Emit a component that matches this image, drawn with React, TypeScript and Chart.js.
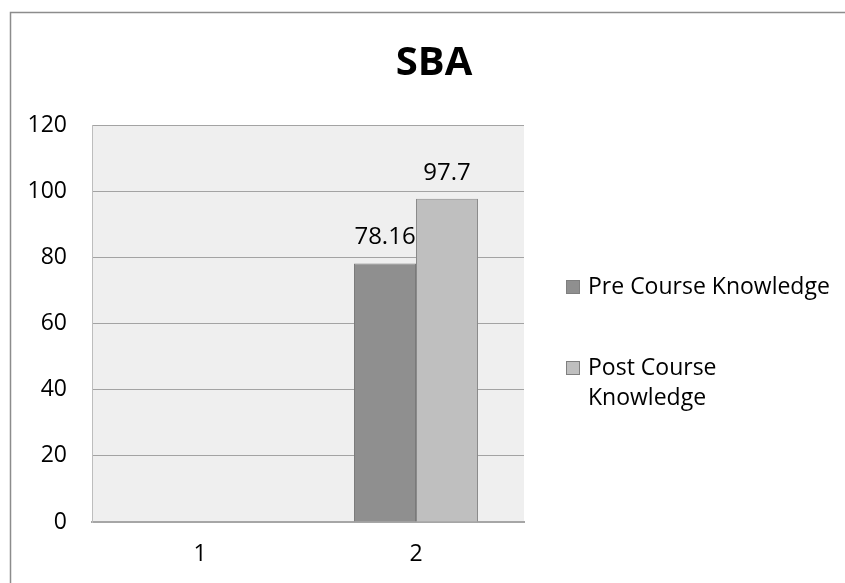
import React, { useEffect, useRef } from "react";
import { Chart, registerables } from "chart.js";

Chart.register(...registerables);

const titleText = "SBA";
const categories = ["1", "2"];
const seriesLabels = ["Pre Course Knowledge", "Post Course Knowledge"];
const preValues: (number | null)[] = [null, 78.16];
const postValues: (number | null)[] = [null, 97.7];
const seriesColors = ["#8f8f8f", "#bfbfbf"];
const yMin = 0;
const yMax = 120;
const yStep = 20;

const FONT = "'Open Sans', 'Liberation Sans', sans-serif";

const W = 845;
const H = 583;

const decorPlugin = {
  id: "decor",
  beforeDraw(chart: any) {
    const { ctx, chartArea } = chart;
    ctx.save();
    ctx.fillStyle = "#ffffff";
    ctx.fillRect(0, 0, W, H);
    ctx.strokeStyle = "#8c8c8c";
    ctx.lineWidth = 1.5;
    ctx.strokeRect(10.5, 12.5, W + 50, H + 50);
    ctx.fillStyle = "#efefef";
    ctx.fillRect(chartArea.left, chartArea.top, chartArea.right - chartArea.left, chartArea.bottom - chartArea.top);
    ctx.restore();
  },
  afterDraw(chart: any) {
    const { ctx } = chart;
    ctx.save();
    // title
    ctx.fillStyle = "#000";
    ctx.font = `bold 40px ${FONT}`;
    ctx.textAlign = "center";
    ctx.textBaseline = "middle";
    ctx.fillText(titleText, 434, 64);

    // data labels
    ctx.font = `24px ${FONT}`;
    chart.data.datasets.forEach((ds: any, di: number) => {
      const meta = chart.getDatasetMeta(di);
      meta.data.forEach((el: any, i: number) => {
        const v = ds.data[i];
        if (v === null || v === undefined) return;
        ctx.fillText(String(v), el.x, el.y - 26);
      });
    });

    // legend
    ctx.font = `23px ${FONT}`;
    const boxX = 566;
    const boxSize = 14;
    const textX = 588;
    const maxW = 248;
    const lineH = 30;
    const starts = [287, 368];
    ctx.textAlign = "left";
    chart.data.datasets.forEach((ds: any, di: number) => {
      const words = String(ds.label).split(" ");
      const lines: string[] = [];
      let cur = "";
      words.forEach((w) => {
        const t = cur ? cur + " " + w : w;
        if (ctx.measureText(t).width > maxW && cur) {
          lines.push(cur);
          cur = w;
        } else cur = t;
      });
      if (cur) lines.push(cur);
      const y0 = starts[di];
      ctx.fillStyle = ds.backgroundColor;
      ctx.fillRect(boxX, y0 - boxSize / 2, boxSize, boxSize);
      ctx.strokeStyle = "#7f7f7f";
      ctx.lineWidth = 1;
      ctx.strokeRect(boxX + 0.5, y0 - boxSize / 2 + 0.5, boxSize - 1, boxSize - 1);
      ctx.fillStyle = "#000";
      lines.forEach((ln, li) => ctx.fillText(ln, textX, y0 + li * lineH));
    });
    ctx.restore();
  },
};

export default function App() {
  const ref = useRef<HTMLCanvasElement>(null);
  useEffect(() => {
    if (!ref.current) return;
    const chart = new Chart(ref.current, {
      type: "bar",
      data: {
        labels: categories,
        datasets: [
          {
            label: seriesLabels[0],
            data: preValues,
            backgroundColor: seriesColors[0],
            borderColor: "#7a7a7a",
            borderWidth: 1,
          },
          {
            label: seriesLabels[1],
            data: postValues,
            backgroundColor: seriesColors[1],
            borderColor: "#8a8a8a",
            borderWidth: 1,
          },
        ],
      },
      options: {
        responsive: false,
        animation: false,
        layout: { padding: { left: 0, top: 125, right: W - 524, bottom: 0 } },
        plugins: {
          legend: { display: false },
          title: { display: false },
          tooltip: { enabled: false },
        },
        datasets: {
          bar: { categoryPercentage: 0.574, barPercentage: 1 },
        },
        scales: {
          x: {
            grid: { display: false, drawTicks: false },
            border: { display: true, color: "#a6a6a6", width: 2 },
            ticks: { color: "#000", font: { family: FONT, size: 23 }, padding: 19 },
            afterFit: (s: any) => {
              s.height = H - 522;
            },
          },
          y: {
            min: yMin,
            max: yMax,
            grid: { color: "#a3a3a3", lineWidth: 1, drawTicks: false },
            border: { display: true, color: "#bdbdbd", width: 1 },
            ticks: { stepSize: yStep, color: "#000", font: { family: FONT, size: 23 }, padding: 25 },
            afterFit: (s: any) => {
              s.width = 92;
            },
          },
        },
      },
      plugins: [decorPlugin],
    });
    return () => chart.destroy();
  }, []);
  return (
    <div style={{ position: "fixed", left: 0, top: 0, width: W, height: H }}>
      <canvas ref={ref} width={W} height={H} style={{ width: W, height: H, display: "block" }} />
    </div>
  );
}
